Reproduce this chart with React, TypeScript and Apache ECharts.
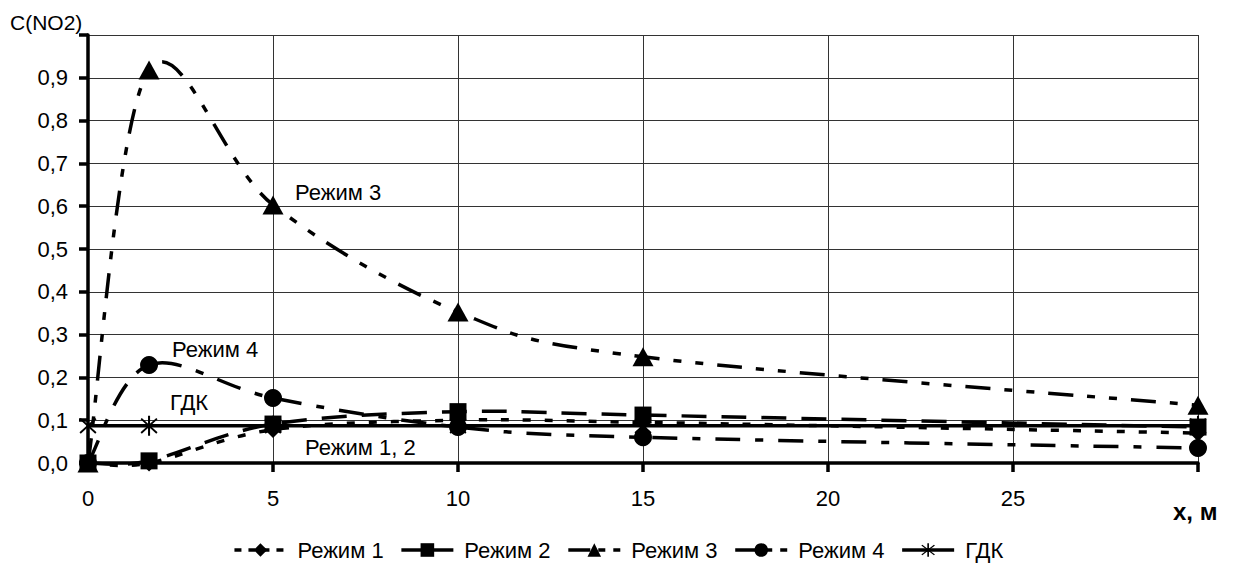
import React, { useEffect, useRef } from "react";
import * as echarts from "echarts";

const xValues = [0, 1.65, 5, 10, 15, 30];
const rezhim1 = [0, 0, 0.078, 0.1, 0.095, 0.07];
const rezhim2 = [0, 0.005, 0.091, 0.12, 0.112, 0.084];
const rezhim3 = [0, 0.918, 0.603, 0.353, 0.248, 0.135];
const rezhim4 = [0, 0.229, 0.152, 0.084, 0.06, 0.035];
const gdk = [0.087, 0.087, 0.087, 0.087, 0.087, 0.087];
const xTickLabels = ["0", "5", "10", "15", "20", "25"];
const yTickLabels = ["0,0", "0,1", "0,2", "0,3", "0,4", "0,5", "0,6", "0,7", "0,8", "0,9"];
const seriesNames = ["Режим 1", "Режим 2", "Режим 3", "Режим 4", "ГДК"];

const dash1 = [8, 14];
const dash2 = [25, 15];
const dash3 = [25, 14, 8, 14, 8, 14];
const dash4 = [25, 15, 8, 15];

const starPath =
  "path://M7.1 0 L8.9 0 L8.9 18 L7.1 18 Z M0.5 3.2 L1.6 1.9 L15.5 14.8 L14.4 16.1 Z M14.4 1.9 L15.5 3.2 L1.6 16.1 L0.5 14.8 Z";

const FONT = "Liberation Sans, Arial, sans-serif";
const LW = 3.5;

function pairs(ys: number[]) {
  return xValues.map((x, i) => [x, ys[i]]);
}

// Excel-like smoothed line (Catmull-Rom, tension 1/6), drawn in pixel space via the axis scales
function smoothCurve(id: string, ys: number[], dash: number[]) {
  return {
    type: "custom" as const,
    id,
    name: id,
    data: pairs(ys),
    encode: { x: 0, y: 1 },
    silent: true,
    z: 2,
    renderItem: (params: any, api: any) => {
      if (params.dataIndex !== 0) return null;
      const pts = xValues.map((x, i) => api.coord([x, ys[i]]));
      let d = `M${pts[0][0]} ${pts[0][1]}`;
      for (let i = 0; i < pts.length - 1; i++) {
        const p0 = pts[i - 1] || pts[i];
        const p1 = pts[i];
        const p2 = pts[i + 1];
        const p3 = pts[i + 2] || pts[i + 1];
        const c1x = p1[0] + (p2[0] - p0[0]) / 6;
        const c1y = p1[1] + (p2[1] - p0[1]) / 6;
        const c2x = p2[0] - (p3[0] - p1[0]) / 6;
        const c2y = p2[1] - (p3[1] - p1[1]) / 6;
        d += ` C${c1x} ${c1y} ${c2x} ${c2y} ${p2[0]} ${p2[1]}`;
      }
      return {
        type: "path",
        shape: { pathData: d },
        style: { stroke: "#000", fill: "none", lineWidth: LW, lineDash: dash },
      };
    },
  };
}

function markerSeries(name: string, ys: number[], symbol: string, size: any) {
  return {
    type: "line" as const,
    name,
    data: pairs(ys),
    symbol,
    symbolSize: size,
    color: "#000",
    itemStyle: { color: "#000" },
    lineStyle: { width: 0, opacity: 0 },
    z: 5,
  };
}

export default function App() {
  const ref = useRef<HTMLDivElement>(null);
  useEffect(() => {
    document.body.style.margin = "0";
    const chart = echarts.init(ref.current!, null, { renderer: "svg" });
    const legendItem = (name: string, dash: any) => ({
      name,
      lineStyle: { color: "#000", width: LW, type: dash, opacity: 1 },
      itemStyle: { color: "#000" },
    });
    chart.setOption({
      animation: false,
      backgroundColor: "#fff",
      textStyle: { fontFamily: FONT },
      grid: { left: 88, right: 38, top: 35, bottom: 105 },
      xAxis: {
        type: "value",
        min: 0,
        max: 30,
        interval: 5,
        axisLine: { show: true, onZero: false, lineStyle: { color: "#000", width: LW } },
        axisTick: { show: true, length: 9, lineStyle: { color: "#000", width: LW } },
        axisLabel: {
          color: "#000",
          fontSize: 22,
          fontFamily: FONT,
          margin: 24,
          formatter: (v: number) => {
            const i = Math.round(v / 5);
            return i < xTickLabels.length ? xTickLabels[i] : "";
          },
        },
        splitLine: { show: true, lineStyle: { color: "#333", width: 1 } },
      },
      yAxis: {
        type: "value",
        min: 0,
        max: 1,
        interval: 0.1,
        axisLine: { show: true, lineStyle: { color: "#000", width: LW } },
        axisTick: { show: true, length: 9, lineStyle: { color: "#000", width: LW } },
        axisLabel: {
          color: "#000",
          fontSize: 22,
          fontFamily: FONT,
          margin: 20,
          formatter: (v: number) => {
            const i = Math.round(v * 10);
            return i < yTickLabels.length ? yTickLabels[i] : "";
          },
        },
        splitLine: { show: true, lineStyle: { color: "#333", width: 1 } },
      },
      legend: {
        bottom: 2,
        left: "center",
        itemWidth: 52,
        itemHeight: 17,
        itemGap: 16,
        textStyle: { color: "#000", fontSize: 22, fontFamily: FONT, padding: [0, 0, 0, 6] },
        data: [
          legendItem(seriesNames[0], [7, 7]),
          legendItem(seriesNames[1], "solid"),
          legendItem(seriesNames[2], [22, 8, 7, 8]),
          legendItem(seriesNames[3], [22, 8, 7, 8]),
          legendItem(seriesNames[4], "solid"),
        ],
      },
      series: [
        smoothCurve("c1", rezhim1, dash1),
        smoothCurve("c2", rezhim2, dash2),
        smoothCurve("c3", rezhim3, dash3),
        smoothCurve("c4", rezhim4, dash4),
        {
          type: "line",
          name: seriesNames[4],
          data: pairs(gdk),
          symbol: starPath,
          symbolSize: [17, 20],
          color: "#000",
          itemStyle: { color: "#000" },
          lineStyle: { color: "#000", width: LW, type: "solid" },
          z: 1,
        },
        markerSeries(seriesNames[0], rezhim1, "diamond", 17),
        markerSeries(seriesNames[1], rezhim2, "rect", 17),
        markerSeries(seriesNames[2], rezhim3, "triangle", [21, 19]),
        markerSeries(seriesNames[3], rezhim4, "circle", 18),
      ],
      graphic: [
        { type: "text", left: 10, top: 12, style: { text: "C(NO2)", fontSize: 21, fontFamily: FONT, fill: "#000" } },
        { type: "text", left: 1173, top: 499, style: { text: "x, м", fontSize: 24, fontWeight: "bold", fontFamily: FONT, fill: "#000" } },
        { type: "text", left: 295, top: 181, style: { text: "Режим 3", fontSize: 22, fontFamily: FONT, fill: "#000" } },
        { type: "text", left: 172, top: 338, style: { text: "Режим 4", fontSize: 22, fontFamily: FONT, fill: "#000" } },
        { type: "text", left: 170, top: 391, style: { text: "ГДК", fontSize: 22, fontFamily: FONT, fill: "#000" } },
        { type: "text", left: 305, top: 436, style: { text: "Режим 1, 2", fontSize: 22, fontFamily: FONT, fill: "#000" } },
      ],
    });
    return () => chart.dispose();
  }, []);
  return <div ref={ref} style={{ width: 1236, height: 568 }} />;
}
